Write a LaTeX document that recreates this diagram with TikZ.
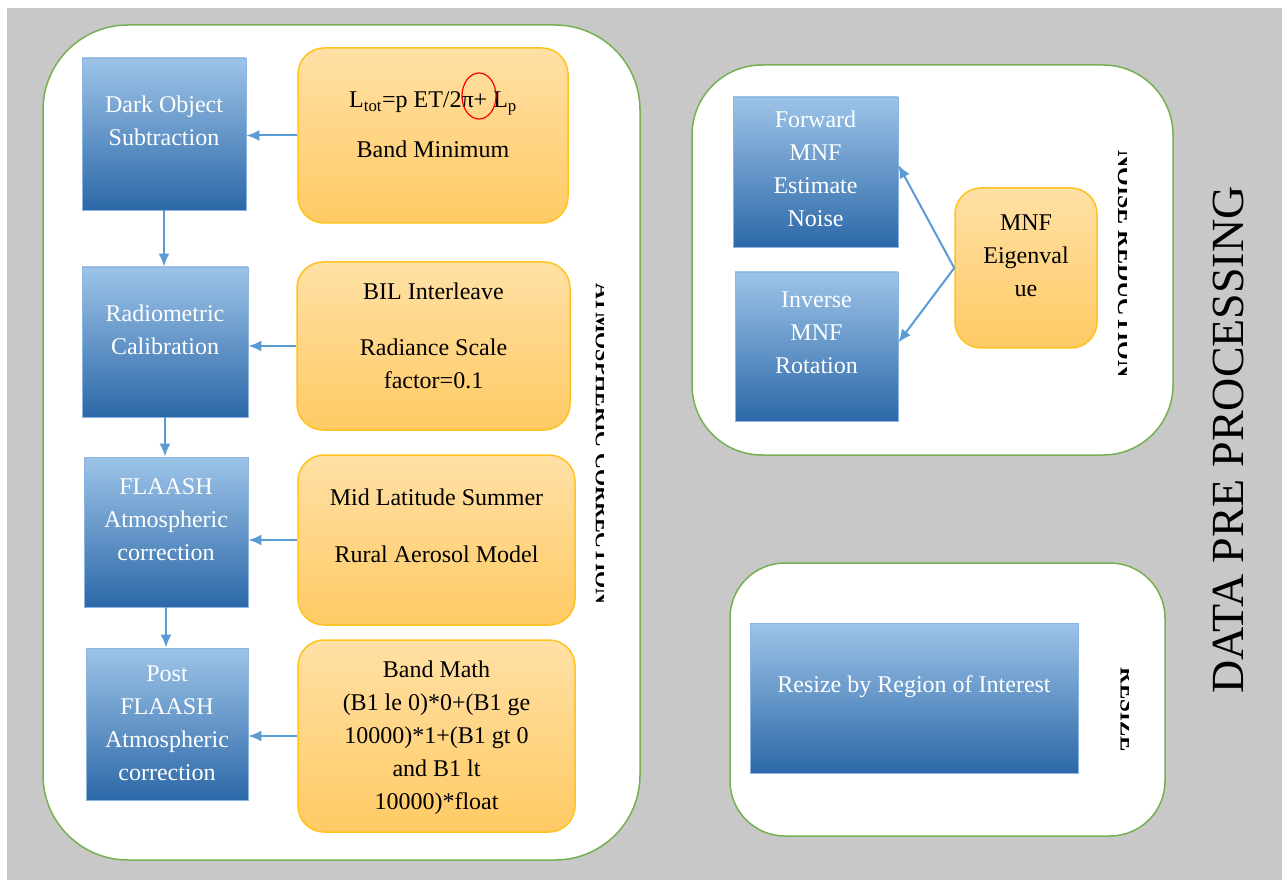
\documentclass[tikz,border=0pt]{standalone}
\usepackage{fontspec}
\setmainfont{Liberation Serif}
\usetikzlibrary{arrows.meta}

\definecolor{bggray}{RGB}{200,200,200}
\definecolor{panelgreen}{RGB}{118,176,80}
\definecolor{bluetop}{RGB}{157,196,232}
\definecolor{bluebot}{RGB}{44,104,168}
\definecolor{blueedge}{RGB}{140,180,225}
\definecolor{orangetop}{RGB}{255,224,165}
\definecolor{orangebot}{RGB}{255,202,100}
\definecolor{orangeedge}{RGB}{255,195,30}
\definecolor{arrowblue}{RGB}{91,155,213}

\tikzset{
  panel/.style={draw=panelgreen, line width=1.5pt, fill=white},
  bluebox/.style={draw=blueedge, line width=0.8pt, top color=bluetop, bottom color=bluebot},
  orangebox/.style={draw=orangeedge, line width=1.5pt, top color=orangetop, bottom color=orangebot, rounded corners=26pt},
  boxtext/.style={align=center, inner sep=0pt, font=\fontsize{24}{33}\selectfont},
  flow/.style={draw=arrowblue, line width=2pt, -{Latex[length=13pt,width=11pt]}},
  sidelabel/.style={inner sep=0pt, font=\bfseries\fontsize{#1}{#1}\selectfont, rotate=-90}
}

\begin{document}
\begin{tikzpicture}[x=1pt, y=-1pt]
    \useasboundingbox (0,0) rectangle (1288,885);
    \fill[white] (0,0) rectangle (1288,885);
    \fill[bggray] (7,8) rectangle (1282,880);

    % panels
    \node[panel, rounded corners=85pt, minimum width=597pt, minimum height=835pt] (atmpanel) at (341.5,442.5) {};
    \node[panel, rounded corners=70pt, minimum width=481pt, minimum height=390pt] (noisepanel) at (932.5,260) {};
    \node[panel, rounded corners=55pt, minimum width=435pt, minimum height=273pt] (resizepanel) at (947.5,699.5) {};

    % atmospheric correction
    \node[bluebox, minimum width=164pt, minimum height=152pt] (dark) at (164,134) {};
    \node[bluebox, minimum width=166pt, minimum height=150pt] (radio) at (165,342) {};
    \node[bluebox, minimum width=164pt, minimum height=150pt] (flaash) at (166,532) {};
    \node[bluebox, minimum width=162pt, minimum height=152pt] (post) at (167,724) {};

    \node[boxtext, white] (darktext) at (164,121) {Dark Object\\Subtraction};
    \node[boxtext, white] (radiotext) at (165,330) {Radiometric\\Calibration};
    \node[boxtext, white] (flaashtext) at (166,520) {FLAASH\\Atmospheric\\correction};
    \node[boxtext, white] (posttext) at (167,723) {Post\\FLAASH\\Atmospheric\\correction};

    \node[orangebox, minimum width=270pt, minimum height=175pt] (bandmin) at (433,135.5) {};
    \node[orangebox, minimum width=273pt, minimum height=168pt] (bil) at (433.5,346) {};
    \node[orangebox, minimum width=277pt, minimum height=170pt] (midlat) at (436.5,540) {};
    \node[orangebox, minimum width=277pt, minimum height=192pt] (bandmath) at (436.5,736) {};

    \node[boxtext] (bandmintext) at (433,125) {L\textsubscript{tot}=p ET/2π+ L\textsubscript{p}\\[17pt]Band Minimum};
    \node[boxtext] (biltext) at (433.5,336) {BIL Interleave\\[23pt]Radiance Scale\\factor=0.1};
    \node[boxtext] (midlattext) at (436.5,526) {Mid Latitude Summer\\[24pt]Rural Aerosol Model};
    \node[boxtext] (bandmathtext) at (436.5,738) {Band Math\\(B1 le 0)*0+(B1 ge\\10000)*1+(B1 gt 0\\and B1 lt\\10000)*float};
    \draw[red, line width=1.2pt] (479,96) ellipse (17pt and 23pt);

    \draw[flow] (bandmin.west) -- (bandmin.west -| dark.east);
    \draw[flow] (bil.west) -- (bil.west -| radio.east);
    \draw[flow] (midlat.west) -- (midlat.west -| flaash.east);
    \draw[flow] (bandmath.west) -- (bandmath.west -| post.east);
    \draw[flow] (dark.south) -- (dark.south |- radio.north);
    \draw[flow] (radio.south) -- (radio.south |- flaash.north);
    \draw[flow] (flaash.south) -- (flaash.south |- post.north);

    \begin{scope}
        \clip (590,250) rectangle (603,640);
        \node[sidelabel=22] (atmlabel) at (603,444) {ATMOSPHERIC CORRECTION};
    \end{scope}

    % noise reduction
    \node[bluebox, minimum width=165pt, minimum height=150pt] (forward) at (815.5,172) {};
    \node[bluebox, minimum width=163pt, minimum height=149pt] (inverse) at (816.5,346.5) {};
    \node[orangebox, minimum width=142pt, minimum height=160pt] (eigen) at (1026,268) {};

    \node[boxtext, white] (forwardtext) at (815.5,169) {Forward\\MNF\\Estimate\\Noise};
    \node[boxtext, white] (inversetext) at (816.5,333) {Inverse\\MNF\\Rotation};
    \node[boxtext] (eigentext) at (1026,256) {MNF\\Eigenval\\ue};

    \draw[flow] (eigen.west) -- ([yshift=7pt]forward.east);
    \draw[flow] (eigen.west) -- ([yshift=4pt]inverse.east);

    \begin{scope}
        \clip (1112,140) rectangle (1126,390);
        \node[sidelabel=24] (noiselabel) at (1126,264) {NOISE REDUCTION};
    \end{scope}

    % resize
    \node[bluebox, minimum width=328pt, minimum height=150pt] (resize) at (914,698) {};
    \node[boxtext, white] (resizetext) at (914,687) {Resize by Region of Interest};

    \begin{scope}
        \clip (1114,650) rectangle (1128,770);
        \node[sidelabel=23] (resizelabel) at (1128,710) {RESIZE};
    \end{scope}

    \node[rotate=90, inner sep=0pt, font=\fontsize{46}{46}\selectfont] (title) at (1228,440) {DATA PRE PROCESSING};
\end{tikzpicture}
\end{document}
